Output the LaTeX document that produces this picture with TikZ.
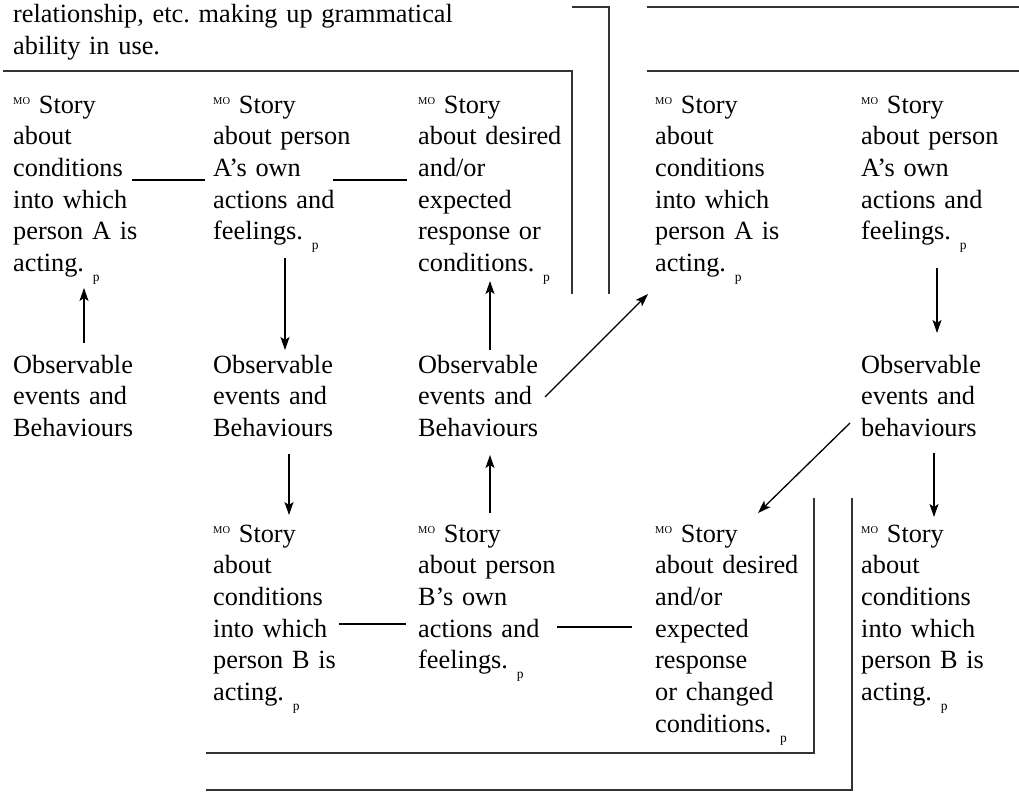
\documentclass[tikz,border=0pt]{standalone}
\usepackage{fontspec}
\setmainfont{Liberation Serif}
\usetikzlibrary{arrows.meta,calc}

\newcommand\motag{\raisebox{9pt}{\fontsize{10.5}{10.5}\selectfont MO}}
\newcommand\ptag{\raisebox{-10pt}{\fontsize{13.5}{13.5}\selectfont p}}

\begin{document}
\begin{tikzpicture} [x=1pt, y=-1pt,
story/.style={anchor=base west, text width=150pt, align=left, inner sep=0pt, font=\fontsize{26.3}{31.7}\selectfont\frenchspacing},
link/.style={line width=1.3pt},
arrow/.style={line width=1.3pt, -{Stealth[length=13pt,width=9pt,inset=3pt]}},
frame/.style={line width=1.4pt, black!80},
]
\useasboundingbox (0,0) rectangle (1019,792);

%Nodes
\node[story, text width=600pt] (intro) at (13,23) {relationship, etc. making up grammatical\\ability in use.};

\node[story] (condA)   at (13,113)  {\motag{} Story\\about\\conditions\\into which\\person A is\\acting. \ptag};
\node[story] (ownA)    at (213,113) {\motag{} Story\\about person\\A's own\\actions and\\feelings. \ptag};
\node[story] (desA)    at (418,113) {\motag{} Story\\about desired\\and/or\\expected\\response or\\conditions. \ptag};
\node[story] (condA2)  at (655,113) {\motag{} Story\\about\\conditions\\into which\\person A is\\acting. \ptag};
\node[story] (ownA2)   at (861,113) {\motag{} Story\\about person\\A's own\\actions and\\feelings. \ptag};

\node[story] (obsA)    at (13,373)  {Observable\\events and\\Behaviours};
\node[story] (obsB)    at (213,373) {Observable\\events and\\Behaviours};
\node[story] (obsC)    at (418,373) {Observable\\events and\\Behaviours};
\node[story] (obsD)    at (861,373) {Observable\\events and\\behaviours};

\node[story] (condB)   at (213,542) {\motag{} Story\\about\\conditions\\into which\\person B is\\acting. \ptag};
\node[story] (ownB)    at (418,542) {\motag{} Story\\about person\\B's own\\actions and\\feelings. \ptag};
\node[story] (desB)    at (655,542) {\motag{} Story\\about desired\\and/or\\expected\\response\\or changed\\conditions. \ptag};
\node[story] (condB2)  at (861,542) {\motag{} Story\\about\\conditions\\into which\\person B is\\acting. \ptag};

%Lines
\draw[link] ($(condA.base west)+(119,67)$) -- ($(ownA.base west)+(-8,67)$);
\draw[link] ($(ownA.base west)+(120,67)$) -- ($(desA.base west)+(-11,67)$);
\draw[link] ($(condB.base west)+(126,82)$) -- ($(ownB.base west)+(-12,82)$);
\draw[link] ($(ownB.base west)+(139,85)$) -- ($(desB.base west)+(-23,85)$);

\draw[arrow] ($(obsA.base west)+(71,-30)$) -- ($(condA.base west)+(71,175)$);
\draw[arrow] ($(ownA.base west)+(72,145)$) -- ($(obsB.base west)+(72,-23)$);
\draw[arrow] ($(obsB.base west)+(76,81)$) -- ($(condB.base west)+(76,-27)$);
\draw[arrow] ($(ownB.base west)+(72,-29)$) -- ($(obsC.base west)+(72,82)$);
\draw[arrow] ($(obsC.base west)+(72,-23)$) -- ($(desA.base west)+(72,168)$);
\draw[arrow] ($(obsC.base west)+(127,24)$) -- ($(condA2.base west)+(-7,181)$);
\draw[arrow] ($(ownA2.base west)+(76,155)$) -- ($(obsD.base west)+(76,-40)$);
\draw[arrow] ($(obsD.base west)+(-11,50)$) -- ($(desB.base west)+(103,-29)$);
\draw[arrow] ($(obsD.base west)+(73,80)$) -- ($(condB2.base west)+(73,-25)$);

%Frames
\draw[frame] (572,7) -- (609,7) -- (609,294);
\draw[frame] (3,71) -- (572,71) -- (572,294);
\draw[frame] (647,7) -- (1019,7);
\draw[frame] (647,71) -- (1019,71);
\draw[frame] (814,498) -- (814,753) -- (206,753);
\draw[frame] (852,498) -- (852,790) -- (206,790);

\end{tikzpicture}
\end{document}
